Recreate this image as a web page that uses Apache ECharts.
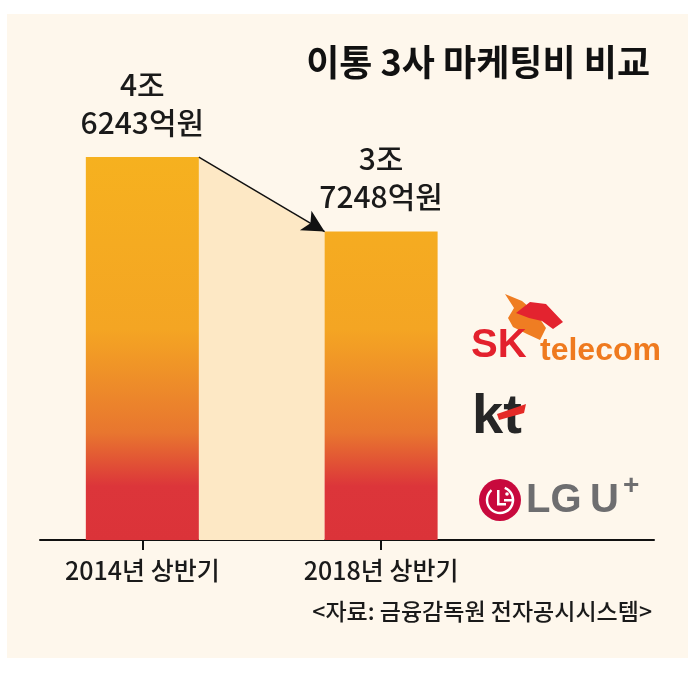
<!DOCTYPE html>
<html>
<head>
<meta charset="utf-8">
<script src="https://cdn.jsdelivr.net/npm/echarts@6/dist/echarts.min.js"></script>
<style>
html,body{margin:0;padding:0;background:#ffffff;}
#chart{width:696px;height:673px;}
</style>
</head>
<body>
<div id="chart"></div>
<script>
// ---- data ----
const categories = ['2014년 상반기', '2018년 상반기'];
const values = [46243, 37248]; // 억원
const titleText = '이통 3사 마케팅비 비교';
const sourceText = '<자료: 금융감독원 전자공시시스템>';

// ---- layout config ----
const GAP = 7;            // x-units between the two bars
const X_MIN = -3, X_MAX = 15;
const GRID = {left: 40, right: 42, top: 126, bottom: 133};
const BAR_W = 113;
const FONT = '"Noto Sans CJK KR", "Noto Sans", sans-serif';
const LATIN = '"Liberation Sans", Arial, sans-serif';

const chartW = 696;
const pxPerUnit = (chartW - GRID.left - GRID.right) / (X_MAX - X_MIN);
const halfW = BAR_W / 2 / pxPerUnit;
const xs = categories.map((c, i) => i * GAP);
const barData = values.map((v, i) => [xs[i], v]);
const areaData = [[xs[0] + halfW, values[0]], [xs[1] - halfW, values[1]]];

function fmtValue(v) {
  return Math.floor(v / 10000) + '조\n' + (v % 10000) + '억원';
}

const barGradient = new echarts.graphic.LinearGradient(0, 157, 0, 540, [
  {offset: 0, color: '#f6b11f'},
  {offset: 0.45, color: '#f4a523'},
  {offset: 0.72, color: '#e8762f'},
  {offset: 0.86, color: '#dc353a'},
  {offset: 1, color: '#db3339'}
], true);

const chart = echarts.init(document.getElementById('chart'), null, {renderer: 'canvas'});

chart.setOption({
  backgroundColor: '#ffffff',
  animation: false,
  grid: GRID,
  xAxis: {
    type: 'value',
    min: X_MIN,
    max: X_MAX,
    splitLine: {show: false},
    axisLine: {show: true, lineStyle: {color: '#111', width: 2}},
    axisTick: {show: true, customValues: xs, length: 10, lineStyle: {color: '#111', width: 2}},
    axisLabel: {
      show: true,
      customValues: xs,
      margin: 18,
      fontSize: 25,
      fontWeight: 500,
      color: '#1a1a1a',
      fontFamily: FONT,
      formatter: function (v) {
        const i = xs.indexOf(v);
        return i >= 0 ? categories[i] : '';
      }
    }
  },
  yAxis: {
    type: 'value',
    min: 0,
    max: 50000,
    show: false,
    splitLine: {show: false}
  },
  series: [
    {
      type: 'line',
      data: areaData,
      symbol: 'none',
      lineStyle: {width: 0},
      areaStyle: {color: '#fde8c5', opacity: 1},
      z: 1,
      silent: true,
      markLine: {
        silent: true,
        symbol: ['none', 'arrow'],
        symbolSize: [17, 22],
        label: {show: false},
        lineStyle: {color: '#111', width: 1.5, type: 'solid'},
        data: [[{coord: areaData[0]}, {coord: areaData[1]}]]
      }
    },
    {
      type: 'bar',
      data: barData,
      barWidth: BAR_W,
      z: 3,
      itemStyle: {color: barGradient},
      label: {
        show: true,
        position: 'top',
        distance: 16,
        fontSize: 30,
        fontWeight: 500,
        lineHeight: 38,
        color: '#1a1a1a',
        fontFamily: FONT,
        align: 'center',
        formatter: p => fmtValue(p.value[1])
      }
    }
  ],
  graphic: [
    {type: 'rect', z: -10, shape: {x: 7, y: 14, width: 681, height: 644}, style: {fill: '#fef7ec'}, silent: true},
    {type: 'text', right: 46, top: 44, style: {text: titleText, fontSize: 36, fontWeight: 'bold', fill: '#111', fontFamily: FONT}},
    {type: 'text', right: 44, top: 600, style: {text: sourceText, fontSize: 23, fontWeight: 500, fill: '#1a1a1a', fontFamily: FONT}},
    // SK telecom logo (approx.)
    {type: 'polygon', shape: {points: [[505,294],[522,301],[536,313],[546,328],[540,340],[527,334],[513,327],[508,318],[514,308]]}, style: {fill: '#ef7d22'}},
    {type: 'polygon', shape: {points: [[516,313],[530,302],[546,304],[563,322],[553,329],[542,321],[529,318]]}, style: {fill: '#e3232f'}},
    {type: 'text', x: 471, y: 366, style: {text: 'SK', fontSize: 40, fontWeight: 'bold', fill: '#e3212d', fontFamily: LATIN, textVerticalAlign: 'bottom'}},
    {type: 'text', x: 540, y: 367, style: {text: 'telecom', fontSize: 32, fontWeight: 'bold', fill: '#ef7a1f', fontFamily: LATIN, textVerticalAlign: 'bottom'}},
    // kt logo (approx.)
    {type: 'text', x: 472, y: 446, style: {text: 'kt', fontSize: 56, fontWeight: 'bold', fill: '#262626', fontFamily: LATIN, textVerticalAlign: 'bottom'}},
    {type: 'polygon', shape: {points: [[497,414],[526,404],[524,413],[499,420]]}, style: {fill: '#e42a26'}},
    // LG U+ logo (approx.)
    {type: 'circle', shape: {cx: 500, cy: 500, r: 21}, style: {fill: '#c8093d'}},
    {type: 'arc', shape: {cx: 500, cy: 500, r: 13, startAngle: -1.2, endAngle: 4.0}, style: {stroke: '#fff', lineWidth: 2.5, fill: null}},
    {type: 'rect', shape: {x: 497, y: 490, width: 2.5, height: 15}, style: {fill: '#fff'}},
    {type: 'rect', shape: {x: 497, y: 503, width: 9, height: 2.5}, style: {fill: '#fff'}},
    {type: 'circle', shape: {cx: 507, cy: 494, r: 1.8}, style: {fill: '#fff'}},
    {type: 'rect', shape: {x: 504, y: 499, width: 10, height: 2.5}, style: {fill: '#fff'}},
    {type: 'text', x: 526, y: 521, style: {text: 'LG', fontSize: 40, fontWeight: 'bold', fill: '#6e6e70', fontFamily: LATIN, textVerticalAlign: 'bottom'}},
    {type: 'text', x: 590, y: 521, style: {text: 'U', fontSize: 40, fontWeight: 'bold', fill: '#6e6e70', fontFamily: LATIN, textVerticalAlign: 'bottom'}},
    {type: 'text', x: 623, y: 500, style: {text: '+', fontSize: 28, fontWeight: 'bold', fill: '#6e6e70', fontFamily: LATIN, textVerticalAlign: 'bottom'}}
  ]
});
</script>
</body>
</html>
